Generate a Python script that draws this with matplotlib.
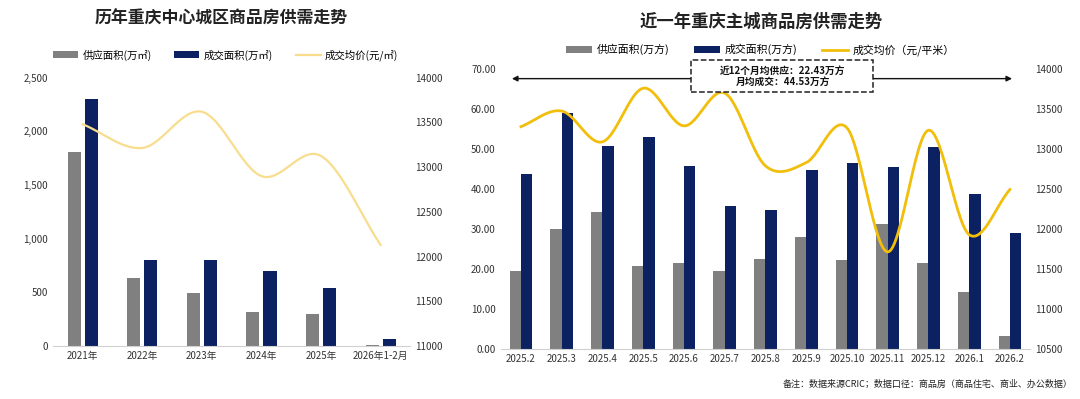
import numpy as np
import matplotlib
matplotlib.use('Agg')
import matplotlib.pyplot as plt
from matplotlib.patches import Rectangle

plt.rcParams['font.family'] = ['Noto Sans CJK SC', 'DejaVu Sans']
plt.rcParams['axes.unicode_minus'] = False

# left chart data: yearly
years = ['2021年', '2022年', '2023年', '2024年', '2025年', '2026年1-2月']
year_supply = [1810, 630, 490, 320, 300, 10]
year_deal = [2300, 800, 800, 700, 540, 60]
year_price = [13480, 13215, 13620, 12900, 13125, 12130]

# right chart data: monthly
months = ['2025.2', '2025.3', '2025.4', '2025.5', '2025.6', '2025.7', '2025.8',
          '2025.9', '2025.10', '2025.11', '2025.12', '2026.1', '2026.2']
month_supply = [19.6, 30.1, 34.3, 20.8, 21.6, 19.4, 22.4, 28.1, 22.2, 31.2, 21.4, 14.3, 3.3]
month_deal = [43.8, 58.9, 50.8, 53.1, 45.8, 35.7, 34.7, 44.8, 46.6, 45.6, 50.6, 38.7, 28.9]
month_price = [13280, 13475, 13090, 13760, 13290, 13700, 12790, 12830, 13265, 11715, 13235, 11930, 12495]

GRAY = '#808080'
NAVY = '#0B2161'


def smooth(x, y, n=30):
    # catmull-rom curve through the points, like excel's smoothed line
    x = np.asarray(x, float)
    y = np.asarray(y, float)
    px = np.concatenate([[2 * x[0] - x[1]], x, [2 * x[-1] - x[-2]]])
    py = np.concatenate([[2 * y[0] - y[1]], y, [2 * y[-1] - y[-2]]])
    xs, ys = [], []
    t = np.linspace(0, 1, n)
    for i in range(1, len(px) - 2):
        for p, out in ((px, xs), (py, ys)):
            p0, p1, p2, p3 = p[i - 1], p[i], p[i + 1], p[i + 2]
            out.extend(0.5 * (2 * p1 + (-p0 + p2) * t + (2 * p0 - 5 * p1 + 4 * p2 - p3) * t ** 2
                              + (-p0 + 3 * p1 - 3 * p2 + p3) * t ** 3))
    return np.array(xs), np.array(ys)


def style_axes(ax, ax2):
    for a in (ax, ax2):
        for s in ['top', 'right', 'left', 'bottom']:
            a.spines[s].set_visible(False)
        a.tick_params(length=0, labelsize=7, colors='#333333')
    ax.spines['bottom'].set_visible(True)
    ax.spines['bottom'].set_color('#d0d0d0')


fig = plt.figure(figsize=(10.8, 3.99), dpi=100)

# ---------- left chart ----------
ax = fig.add_axes([0.049, 0.133, 0.331, 0.672])
ax2 = ax.twinx()
x = np.arange(len(years))
w = 0.22
ax.bar(x - 0.143, year_supply, w, color=GRAY, label='供应面积(万㎡)')
ax.bar(x + 0.143, year_deal, w, color=NAVY, label='成交面积(万㎡)')
sx, sy = smooth(x, year_price)
ax2.plot(sx, sy, color='#F8DD8E', lw=1.6, label='成交均价(元/㎡)')
ax.set_xlim(-0.5, len(years) - 0.5)
ax.set_ylim(0, 2500)
ax.set_yticks(range(0, 2501, 500))
ax.set_yticklabels([f'{v:,}' for v in range(0, 2501, 500)])
ax2.set_ylim(11000, 14000)
ax2.set_yticks(range(11000, 14001, 500))
ax.set_xticks(x)
ax.set_xticklabels(years)
style_axes(ax, ax2)
fig.text(0.205, 0.952, '历年重庆中心城区商品房供需走势', ha='center', va='center',
         fontsize=12.2, fontweight='bold', color='#222222')
h1, l1 = ax.get_legend_handles_labels()
h2, l2 = ax2.get_legend_handles_labels()
fig.legend(h1 + h2, l1 + l2, loc='center', bbox_to_anchor=(0.209, 0.862), ncol=3,
           frameon=False, fontsize=7.5, handlelength=2.4, handleheight=0.6,
           handletextpad=0.4, columnspacing=2.2)

# ---------- right chart ----------
bx = fig.add_axes([0.4635, 0.125, 0.4905, 0.702])
bx2 = bx.twinx()
m = np.arange(len(months))
w = 0.28
bx.bar(m - 0.14, month_supply, w, color=GRAY, label='供应面积(万方)')
bx.bar(m + 0.14, month_deal, w, color=NAVY, label='成交面积(万方)')
mx, my = smooth(m, month_price)
bx2.plot(mx, my, color='#F2BE0C', lw=2.0, label='成交均价（元/平米）')
bx.set_xlim(-0.5, len(months) - 0.5)
bx.set_ylim(0, 70)
bx.set_yticks(range(0, 71, 10))
bx.set_yticklabels([f'{v:.2f}' for v in range(0, 71, 10)])
bx2.set_ylim(10500, 14000)
bx2.set_yticks(range(10500, 14001, 500))
bx.set_xticks(m)
bx.set_xticklabels(months)
style_axes(bx, bx2)
fig.text(0.705, 0.946, '近一年重庆主城商品房供需走势', ha='center', va='center',
         fontsize=12.5, fontweight='bold', color='#222222')
h1, l1 = bx.get_legend_handles_labels()
h2, l2 = bx2.get_legend_handles_labels()
fig.legend(h1 + h2, l1 + l2, loc='center', bbox_to_anchor=(0.704, 0.875), ncol=3,
           frameon=False, fontsize=7.8, handlelength=2.4, handleheight=0.6,
           handletextpad=0.4, columnspacing=2.3)

# double arrow with dashed summary box (drawn on the top axes so it sits over the line)
bx2.set_zorder(bx.get_zorder() + 1)
bx2.annotate('', xy=(-0.29, 13880), xytext=(12.12, 13880),
             arrowprops=dict(arrowstyle='<|-|>', color='#111111', lw=1, mutation_scale=8),
             annotation_clip=False)
bx2.add_patch(Rectangle((4.17, 13712), 4.47, 400, fc='white', ec='#222222', ls='--', lw=1.1,
                        clip_on=False, zorder=3))
bx2.text(6.43, 13910, '近12个月均供应：22.43万方\n月均成交：44.53万方', ha='center', va='center',
         fontsize=7, fontweight='bold', color='#111111', linespacing=1.15, zorder=4)

fig.text(0.993, 0.038, '备注：数据来源CRIC；数据口径：商品房（商品住宅、商业、办公数据）',
         ha='right', va='center', fontsize=6.5, color='#222222')

fig.savefig('out.png', dpi=100)
